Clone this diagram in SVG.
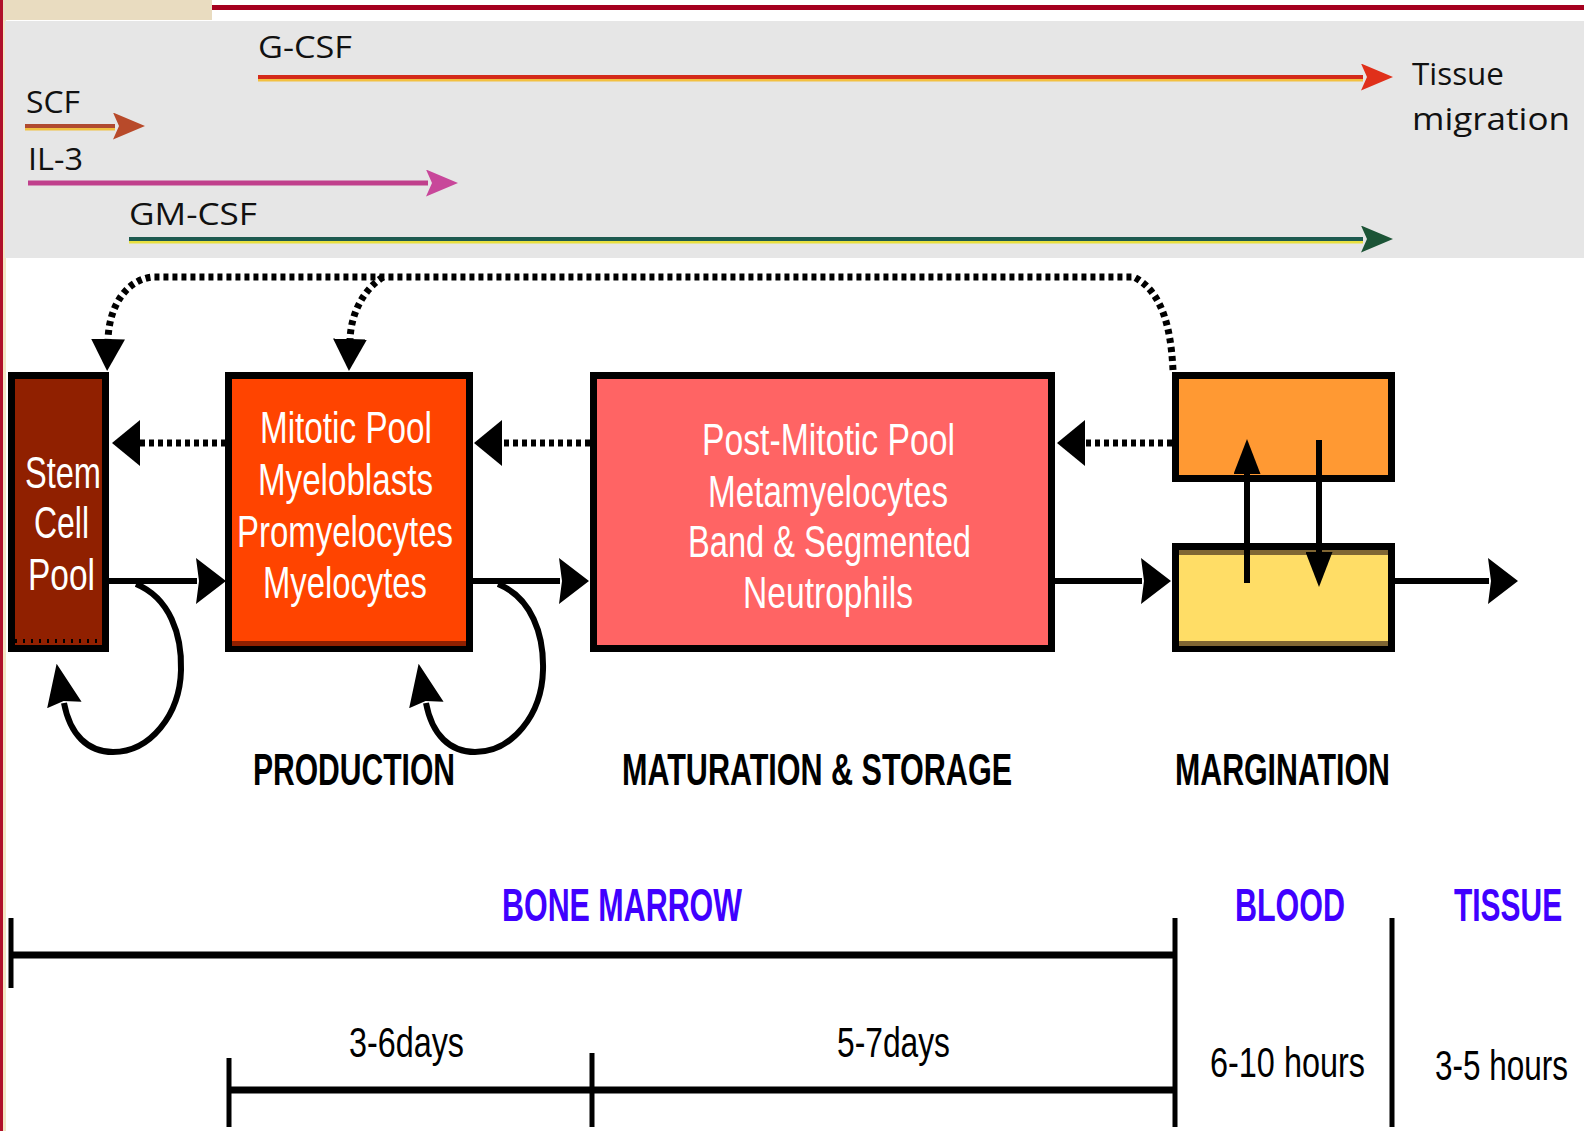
<svg xmlns="http://www.w3.org/2000/svg" width="1584" height="1131" viewBox="0 0 1584 1131">
  <style>
    .top { font-family: "Open Sans", "Noto Sans", sans-serif; font-size: 31px; fill: #111111; }
    .box { font-family: "Liberation Sans Narrow", "Liberation Sans", Arial, sans-serif; font-size: 44px; fill: #ffffff; }
    .sec { font-family: "Liberation Sans Narrow", "Liberation Sans", Arial, sans-serif; font-size: 45px; font-weight: bold; fill: #000000; }
    .blue { font-family: "Liberation Sans Narrow", "Liberation Sans", Arial, sans-serif; font-size: 47px; font-weight: bold; fill: #4000ff; }
    .dur { font-family: "Liberation Sans Narrow", "Liberation Sans", Arial, sans-serif; font-size: 42px; fill: #000000; }
    .solid { fill: none; stroke: #000; stroke-width: 6; }
    .dot { fill: none; stroke: #000; stroke-width: 7; stroke-dasharray: 5 4; }
    .tl { fill: none; stroke: #000; }
    .frame { stroke: #000; stroke-width: 7; }
  </style>
  <defs>
    <marker id="ahH" viewBox="0 0 30 46" markerWidth="30" markerHeight="46" refX="1" refY="23" markerUnits="userSpaceOnUse" orient="auto">
      <path d="M0,0 L30,23 L0,46 L3,23 z" fill="#000"/>
    </marker>
    <marker id="ahDot" viewBox="0 0 28 46" markerWidth="28" markerHeight="46" refX="1" refY="23" markerUnits="userSpaceOnUse" orient="auto">
      <path d="M0,0 L28,23 L0,46 z" fill="#000"/>
    </marker>
    <marker id="ahD" viewBox="0 0 32 34" markerWidth="32" markerHeight="34" refX="1" refY="17" markerUnits="userSpaceOnUse" orient="auto">
      <path d="M0,0 L32,17 L0,34 z" fill="#000"/>
    </marker>
    <marker id="ahV" viewBox="0 0 35 27" markerWidth="35" markerHeight="27" refX="1" refY="13.5" markerUnits="userSpaceOnUse" orient="auto">
      <path d="M0,0 L35,13.5 L0,27 z" fill="#000"/>
    </marker>
    <marker id="ahLoop" viewBox="0 0 42 35" markerWidth="42" markerHeight="35" refX="2" refY="17.5" markerUnits="userSpaceOnUse" orient="auto">
      <path d="M0,0 L42,17.5 L0,35 L4,17.5 z" fill="#000"/>
    </marker>
    <marker id="ahRed" viewBox="0 0 32 27" markerWidth="32" markerHeight="27" refX="2" refY="13.5" markerUnits="userSpaceOnUse" orient="auto">
      <path d="M0,0 L32,13.5 L0,27 L6,13.5 z" fill="#e0301a"/>
    </marker>
    <marker id="ahBrown" viewBox="0 0 32 27" markerWidth="32" markerHeight="27" refX="2" refY="13.5" markerUnits="userSpaceOnUse" orient="auto">
      <path d="M0,0 L32,13.5 L0,27 L6,13.5 z" fill="#b84a2a"/>
    </marker>
    <marker id="ahPink" viewBox="0 0 32 27" markerWidth="32" markerHeight="27" refX="2" refY="13.5" markerUnits="userSpaceOnUse" orient="auto">
      <path d="M0,0 L32,13.5 L0,27 L6,13.5 z" fill="#c8479a"/>
    </marker>
    <marker id="ahGreen" viewBox="0 0 32 27" markerWidth="32" markerHeight="27" refX="2" refY="13.5" markerUnits="userSpaceOnUse" orient="auto">
      <path d="M0,0 L32,13.5 L0,27 L6,13.5 z" fill="#1c5436"/>
    </marker>
  </defs>

  <!-- background -->
  <rect x="0" y="0" width="1584" height="1131" fill="#ffffff"/>
  <rect x="0" y="0" width="212" height="20" fill="#e9dcc0"/>
  <rect x="212" y="5" width="1372" height="5" fill="#a5001f"/>
  <rect x="0" y="0" width="3" height="1131" fill="#b0102a"/>
  <rect x="3" y="20" width="3" height="1111" fill="#f3e6c4"/>

  <!-- cytokine panel -->
  <g id="cytokine-panel">
    <rect x="5" y="21" width="1579" height="237" fill="#e6e6e6"/>
    <g id="gcsf">
      <line x1="258" y1="80" x2="1363" y2="80" stroke="#f2c040" stroke-width="3"/>
      <line x1="258" y1="77" x2="1363" y2="77" stroke="#d42a1a" stroke-width="4" marker-end="url(#ahRed)"/>
      <text class="top" x="258" y="58" textLength="94" lengthAdjust="spacingAndGlyphs">G-CSF</text>
    </g>
    <g id="scf">
      <line x1="25" y1="129" x2="115" y2="129" stroke="#f0c040" stroke-width="3"/>
      <line x1="25" y1="126" x2="115" y2="126" stroke="#b04a30" stroke-width="4" marker-end="url(#ahBrown)"/>
      <text class="top" x="26" y="113" textLength="54" lengthAdjust="spacingAndGlyphs">SCF</text>
    </g>
    <g id="il3">
      <line x1="28" y1="183" x2="428" y2="183" stroke="#c0408c" stroke-width="5" marker-end="url(#ahPink)"/>
      <text class="top" x="28" y="170" textLength="55" lengthAdjust="spacingAndGlyphs">IL-3</text>
    </g>
    <g id="gmcsf">
      <line x1="129" y1="242" x2="1363" y2="242" stroke="#e8e040" stroke-width="3"/>
      <line x1="129" y1="239" x2="1363" y2="239" stroke="#1e5a50" stroke-width="4" marker-end="url(#ahGreen)"/>
      <text class="top" x="129" y="225" textLength="128" lengthAdjust="spacingAndGlyphs">GM-CSF</text>
    </g>
    <text class="top" x="1412" y="85" font-size="32" textLength="92" lengthAdjust="spacingAndGlyphs">Tissue</text>
    <text class="top" x="1412" y="130" font-size="32" textLength="158" lengthAdjust="spacingAndGlyphs">migration</text>
  </g>

  <!-- nodes -->
  <g id="stem-cell-pool">
    <rect x="11.5" y="375.5" width="94" height="273" fill="#902000" class="frame"/>
    <line x1="15" y1="641" x2="102" y2="641" stroke="#000" stroke-width="4" stroke-dasharray="2 6"/>
    <text class="box" x="25" y="488" textLength="76" lengthAdjust="spacingAndGlyphs">Stem</text>
    <text class="box" x="34" y="538" textLength="55" lengthAdjust="spacingAndGlyphs">Cell</text>
    <text class="box" x="28" y="590" textLength="67" lengthAdjust="spacingAndGlyphs">Pool</text>
  </g>
  <g id="mitotic-pool">
    <rect x="228.5" y="375.5" width="241" height="273" fill="#ff4400" class="frame"/>
    <rect x="232" y="641" width="234" height="5" fill="#902000"/>
    <text class="box" x="260" y="443" textLength="172" lengthAdjust="spacingAndGlyphs">Mitotic Pool</text>
    <text class="box" x="258" y="495" textLength="175" lengthAdjust="spacingAndGlyphs">Myeloblasts</text>
    <text class="box" x="237" y="547" textLength="216" lengthAdjust="spacingAndGlyphs">Promyelocytes</text>
    <text class="box" x="263" y="598" textLength="164" lengthAdjust="spacingAndGlyphs">Myelocytes</text>
  </g>
  <g id="post-mitotic-pool">
    <rect x="593.5" y="375.5" width="458" height="273" fill="#ff6464" class="frame"/>
    <text class="box" x="702" y="455" textLength="253" lengthAdjust="spacingAndGlyphs">Post-Mitotic Pool</text>
    <text class="box" x="708" y="507" textLength="240" lengthAdjust="spacingAndGlyphs">Metamyelocytes</text>
    <text class="box" x="688" y="557" textLength="283" lengthAdjust="spacingAndGlyphs">Band &amp; Segmented</text>
    <text class="box" x="743" y="608" textLength="170" lengthAdjust="spacingAndGlyphs">Neutrophils</text>
  </g>
  <g id="marginated-pool">
    <rect x="1175.5" y="375.5" width="216" height="103" fill="#ff9933" class="frame"/>
  </g>
  <g id="circulating-pool">
    <rect x="1175.5" y="546.5" width="216" height="102" fill="#ffdd66" class="frame"/>
    <rect x="1179" y="550" width="209" height="5" fill="#806633"/>
    <rect x="1179" y="641" width="209" height="5" fill="#806633"/>
  </g>

  <!-- connectors -->
  <g id="connectors">
    <path class="solid" d="M109,581 H197" marker-end="url(#ahH)"/>
    <path class="solid" d="M473,581 H560" marker-end="url(#ahH)"/>
    <path class="solid" d="M1055,581 H1142" marker-end="url(#ahH)"/>
    <path class="solid" d="M1395,581 H1489" marker-end="url(#ahH)"/>

    <path class="dot" d="M226,443 H139" marker-end="url(#ahDot)"/>
    <path class="dot" d="M590,443 H501" marker-end="url(#ahDot)"/>
    <path class="dot" d="M1172,443 H1084" marker-end="url(#ahDot)"/>

    <path class="dot" d="M1173,370 C1171,330 1163,292 1134,277 H152 C127,280 109,305 108,340" marker-end="url(#ahD)"/>
    <path class="dot" d="M383,277 C366,288 351,310 350,340" marker-end="url(#ahD)"/>

    <path class="solid" d="M1247,583 V473" marker-end="url(#ahV)"/>
    <path class="solid" d="M1319,440 V553" marker-end="url(#ahV)"/>

    <path class="solid" d="M136,584 C170,598 182,635 181,670 C180,715 150,752 113,752 C88,752 70,735 64,703" marker-end="url(#ahLoop)"/>
    <path class="solid" d="M498,584 C532,598 544,635 543,670 C542,715 512,752 475,752 C450,752 432,735 426,703" marker-end="url(#ahLoop)"/>
  </g>

  <!-- section labels -->
  <g id="section-labels">
    <text class="sec" x="253" y="785" textLength="202" lengthAdjust="spacingAndGlyphs">PRODUCTION</text>
    <text class="sec" x="622" y="785" textLength="390" lengthAdjust="spacingAndGlyphs">MATURATION &amp; STORAGE</text>
    <text class="sec" x="1175" y="785" textLength="215" lengthAdjust="spacingAndGlyphs">MARGINATION</text>
  </g>

  <!-- timeline -->
  <g id="timeline">
    <text class="blue" x="502" y="921" textLength="240" lengthAdjust="spacingAndGlyphs">BONE MARROW</text>
    <text class="blue" x="1235" y="921" textLength="110" lengthAdjust="spacingAndGlyphs">BLOOD</text>
    <text class="blue" x="0" y="0" transform="translate(1454 921) scale(0.64 1)" textLength="169" lengthAdjust="spacingAndGlyphs">TISSUE</text>

    <path class="tl" stroke-width="7" d="M11,955 H1175"/>
    <path class="tl" stroke-width="5" d="M11,918 V988"/>
    <path class="tl" stroke-width="5" d="M1175,918 V1127"/>
    <path class="tl" stroke-width="5" d="M1392,918 V1127"/>
    <path class="tl" stroke-width="7" d="M229,1090 H1175"/>
    <path class="tl" stroke-width="5" d="M229,1058 V1127"/>
    <path class="tl" stroke-width="5" d="M592,1053 V1127"/>

    <text class="dur" x="349" y="1057" textLength="115" lengthAdjust="spacingAndGlyphs">3-6days</text>
    <text class="dur" x="837" y="1057" textLength="113" lengthAdjust="spacingAndGlyphs">5-7days</text>
    <text class="dur" x="1210" y="1077" textLength="155" lengthAdjust="spacingAndGlyphs">6-10 hours</text>
    <text class="dur" x="0" y="0" transform="translate(1435 1080) scale(0.64 1)" textLength="208" lengthAdjust="spacingAndGlyphs">3-5 hours</text>
  </g>
</svg>
